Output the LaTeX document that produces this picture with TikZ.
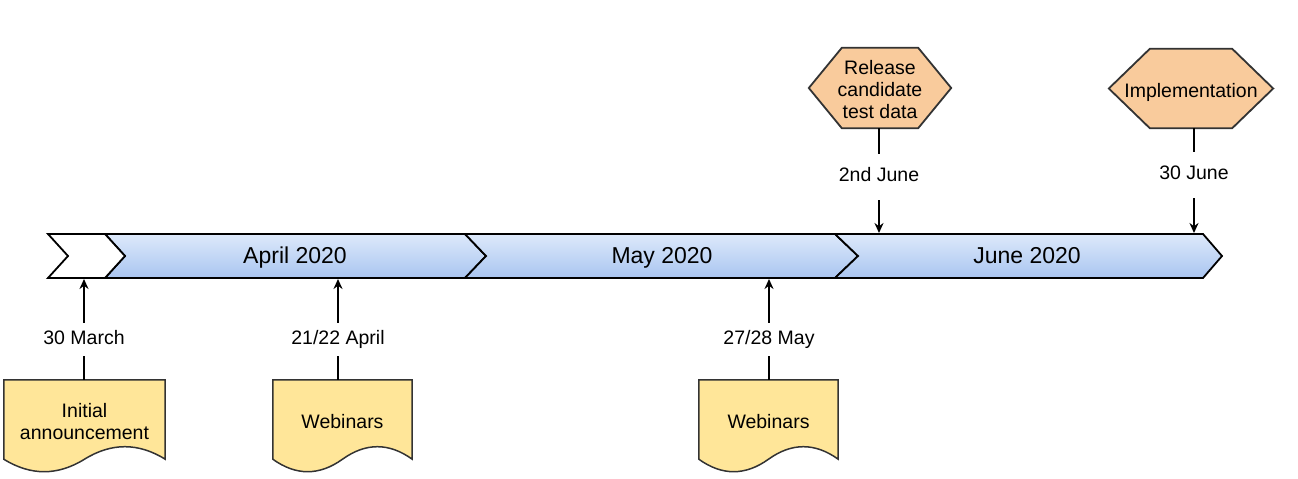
\documentclass[tikz,border=0pt]{standalone}
\usepackage{fontspec}
\setmainfont{Liberation Sans}
\usetikzlibrary{backgrounds,calc,arrows.meta}
\definecolor{docfill}{HTML}{FFE699}
\definecolor{hexfill}{HTML}{F9CB9C}
\definecolor{bartop}{HTML}{DDE9FB}
\definecolor{barbot}{HTML}{A9C5F0}
\definecolor{shapeline}{HTML}{333333}
\newcommand{\hexoutline}[2]{%
  \begin{scope}[on background layer]
  \draw[hexstyle] (#1.west) -- ($(#1.north west)+(#2,0)$) -- ($(#1.north east)+(-#2,0)$) -- (#1.east)
    -- ($(#1.south east)+(-#2,0)$) -- ($(#1.south west)+(#2,0)$) -- cycle;
  \end{scope}}
\newcommand{\docoutline}[1]{%
  \begin{scope}[on background layer]
  \draw[docstyle] (#1.north west) -- (#1.north east) -- (#1.south east)
    .. controls ($(#1.south east)!0.3333!(#1.south)+(0,-16.67)$) and ($(#1.south)!0.3333!(#1.south east)+(0,-16.67)$) .. (#1.south)
    .. controls ($(#1.south)!0.3333!(#1.south west)+(0,16.67)$) and ($(#1.south west)!0.3333!(#1.south)+(0,16.67)$) .. (#1.south west) -- cycle;
  \end{scope}}
\newcommand{\boxtext}[1]{\raisebox{0pt}[\dimexpr\height+9pt\relax][\depth]{\begin{tabular}{@{}c@{}}#1\end{tabular}}}
\begin{document}
\begin{tikzpicture}[x=1pt,y=-1pt,
  lbl/.style={font=\fontsize{19.5}{22}\selectfont, align=center},
  seglbl/.style={font=\fontsize{23}{26}\selectfont, text height=16pt, text depth=4.5pt},
  docbox/.style={font=\fontsize{19.5}{22}\selectfont, minimum height=79pt, inner sep=0pt},
  hexbox/.style={font=\fontsize{19.5}{22}\selectfont, inner sep=0pt},
  docstyle/.style={draw=shapeline, fill=docfill, line width=1.5pt},
  hexstyle/.style={draw=shapeline, fill=hexfill, line width=1.8pt, line join=miter},
  seg/.style={draw=black, line width=1.8pt, top color=bartop, bottom color=barbot, line join=miter},
  firstseg/.style={draw=black, line width=1.8pt, fill=white, line join=miter},
  conn/.style={-{Stealth[length=10pt,width=9pt]}, line width=2pt},
  datelbl/.style={lbl, fill=white, inner xsep=2pt, text height=14pt, text depth=4pt, inner ysep=7.5pt},
  datelbltop/.style={datelbl, inner ysep=14pt},
]
\useasboundingbox (0,0) rectangle (1298,479);
% timeline bar
\draw[seg] (105,234) -- (465,234) -- (486,256) -- (465,278) -- (105,278) -- (125,256) -- cycle;
\draw[seg] (465,234) -- (835,234) -- (858,256) -- (835,278) -- (465,278) -- (486,256) -- cycle;
\draw[seg] (835,234) -- (1203,234) -- (1222,256) -- (1203,278) -- (835,278) -- (858,256) -- cycle;
\draw[firstseg] (48,234) -- (105,234) -- (125,256) -- (105,278) -- (48,278) -- (68,256) -- cycle;
\node[seglbl] (apr) at (295,257.3) {April 2020};
\node[seglbl] (may) at (662,257.3) {May 2020};
\node[seglbl] (jun) at (1027,257.3) {June 2020};
% anchor points on the bar
\coordinate (t1) at (84,279);
\coordinate (t2) at (338,279);
\coordinate (t3) at (769,279);
\coordinate (t4) at (879,233);
\coordinate (t5) at (1194,233);
% documents
\node[docbox, minimum width=161pt] (d1) at (84.5,419.5) {\boxtext{Initial\\announcement}};
\docoutline{d1}
\node[docbox, minimum width=139pt] (d2) at (342.5,419.5) {\boxtext{Webinars}};
\docoutline{d2}
\node[docbox, minimum width=139pt] (d3) at (768.5,419.5) {\boxtext{Webinars}};
\docoutline{d3}
% hexagons
\node[hexbox, minimum width=142pt, minimum height=80pt] (h1) at (880,88) {\boxtext{Release\\candidate\\test data}};
\hexoutline{h1}{33}
\node[hexbox, minimum width=164pt, minimum height=79pt] (h2) at (1191,88.5) {\boxtext{Implementation}};
\hexoutline{h2}{41}
% connectors
\draw[conn] (t1 |- d1.north) -- (t1) node[datelbl, pos=0.396] {30 March};
\draw[conn] (t2 |- d2.north) -- (t2) node[datelbl, pos=0.396] {21/22 April};
\draw[conn] (t3 |- d3.north) -- (t3) node[datelbl, pos=0.396] {27/28 May};
\draw[conn] (t4 |- h1.south) -- (t4) node[datelbltop, pos=0.462] {2nd June};
\draw[conn] (t5 |- h2.south) -- (t5) node[datelbltop, pos=0.443] {30 June};
\end{tikzpicture}
\end{document}
